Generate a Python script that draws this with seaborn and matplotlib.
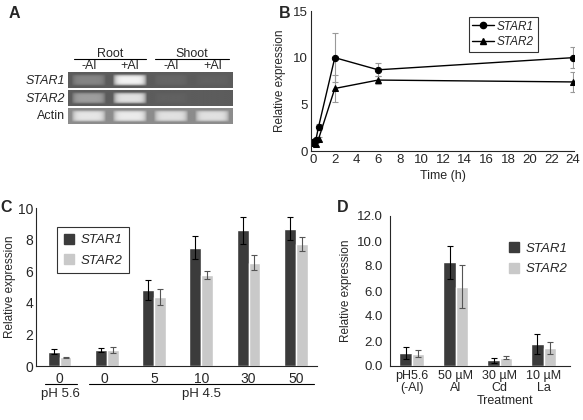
import numpy as np
import pandas as pd
import seaborn as sns
import matplotlib.pyplot as plt
from matplotlib.lines import Line2D
from matplotlib.patches import Patch

# ---- data ----
# panel A: band brightness per lane (root -Al, root +Al, shoot -Al, shoot +Al)
gel_rows = ['STAR1', 'STAR2', 'Actin']
gel_lanes = ['-Al', '+Al', '-Al', '+Al']
gel_band = [[0.52, 0.95, 0.40, 0.38],
            [0.62, 0.88, 0.38, 0.36],
            [0.90, 0.92, 0.88, 0.88]]
gel_bg = [0.36, 0.36, 0.55]

# panel B: time course
time_h = [0, 0.25, 0.5, 2, 6, 24]
star1_time = [1.0, 1.2, 2.6, 10.0, 8.7, 10.0]
star1_time_err = [0.3, 0.2, 0.3, 2.6, 0.7, 1.1]
star2_time = [0.9, 0.7, 1.3, 6.7, 7.6, 7.4]
star2_time_err = [0.2, 0.2, 0.2, 1.4, 0.4, 1.1]

# panel C: Al dose
dose_labels = ['0', '0 ', '5', '10', '30', '50']
star1_dose = [0.9, 1.0, 4.8, 7.5, 8.6, 8.7]
star1_dose_err = [0.15, 0.12, 0.65, 0.75, 0.85, 0.7]
star2_dose = [0.55, 1.0, 4.35, 5.75, 6.55, 7.7]
star2_dose_err = [0.03, 0.2, 0.5, 0.25, 0.5, 0.45]

# panel D: other metals
treat_labels = ['pH5.6\n(-Al)', '50 \u00b5M\nAl', '30 \u00b5M\nCd', '10 \u00b5M\nLa']
star1_treat = [1.05, 8.3, 0.45, 1.8]
star1_treat_err = [0.5, 1.3, 0.2, 0.8]
star2_treat = [1.0, 6.35, 0.65, 1.45]
star2_treat_err = [0.3, 1.7, 0.12, 0.45]

dark = '#3b3b3b'
light = '#c9c9c9'

sns.set_style('white')
plt.rcParams['font.family'] = ['Liberation Sans', 'DejaVu Sans']
plt.rcParams['font.size'] = 9

W, H = 583, 420
fig = plt.figure(figsize=(W / 100, H / 100), dpi=100)


def box(l, t, r, b):
    # pixel box -> figure fraction rect
    return [l / W, 1 - b / H, (r - l) / W, (b - t) / H]


# ---------- panel A ----------
axA = fig.add_axes(box(68, 72, 233, 125))
xx = np.linspace(0, 4, 400)
yy = np.linspace(0, 1, 40)
for r, (bands, bg) in enumerate(zip(gel_band, gel_bg)):
    img = np.full((len(yy), len(xx)), bg)
    for lane, val in enumerate(bands):
        px = np.clip(1 - np.abs((xx - lane - 0.5) / 0.42) ** 6, 0, 1)
        py = np.clip(1 - np.abs((yy - 0.5) / 0.38) ** 4, 0, 1)
        img = np.maximum(img, bg + (val - bg) * np.outer(py, px))
    axA.imshow(img, cmap='gray', vmin=0, vmax=1, aspect='auto',
               extent=(0, 4, r + 0.92, r + 0.04))
axA.set_xlim(0, 4)
axA.set_ylim(3, 0)
axA.axis('off')
for r, name in enumerate(gel_rows):
    axA.text(-0.06, r + 0.5, name, ha='right', va='center', fontsize=9,
             style='normal' if name == 'Actin' else 'italic')
for lane, lab in enumerate(gel_lanes):
    axA.text(lane + 0.5, -0.36, lab, ha='center', va='center', fontsize=9)
for (x0, x1, lab) in [(0.15, 1.9, 'Root'), (2.1, 3.9, 'Shoot')]:
    axA.plot([x0, x1], [-0.74, -0.74], color='black', lw=0.8, clip_on=False)
    axA.text((x0 + x1) / 2, -1.02, lab, ha='center', va='center', fontsize=9)

# ---------- panel B ----------
axB = fig.add_axes(box(311, 11, 574, 151))
dfB = pd.DataFrame({'time': time_h * 2,
                    'expr': star1_time + star2_time,
                    'gene': ['STAR1'] * len(time_h) + ['STAR2'] * len(time_h)})
axB.errorbar(time_h, star1_time, yerr=star1_time_err, fmt='none',
             ecolor='#999999', elinewidth=0.8, capsize=2.5, capthick=0.8)
axB.errorbar(time_h, star2_time, yerr=star2_time_err, fmt='none',
             ecolor='#999999', elinewidth=0.8, capsize=2.5, capthick=0.8)
sns.lineplot(data=dfB, x='time', y='expr', style='gene',
             markers={'STAR1': 'o', 'STAR2': '^'},
             dashes={'STAR1': '', 'STAR2': ''}, color='black',
             markersize=4.5, markeredgecolor='black', lw=1, ax=axB, legend=False)
axB.set_xlim(-0.2, 24.1)
axB.set_ylim(0, 15)
axB.set_xticks(range(0, 25, 2))
axB.set_yticks([0, 5, 10, 15])
axB.tick_params(direction='in', length=3, labelsize=9.5, pad=2)
axB.set_xlabel('Time (h)', fontsize=9, labelpad=3)
axB.set_ylabel('Relative expression', fontsize=8.5, labelpad=5)
sns.despine(ax=axB)
hB = [Line2D([], [], color='black', marker='o', markersize=4.5, lw=1),
      Line2D([], [], color='black', marker='^', markersize=4.5, lw=1)]
legB = axB.legend(hB, ['STAR1', 'STAR2'], loc='upper left',
                  bbox_to_anchor=(0.60, 0.957), borderaxespad=0,
                  frameon=True, fancybox=False, edgecolor='black',
                  handlelength=1.8, handletextpad=0.3, borderpad=0.3,
                  labelspacing=0.3, prop={'style': 'italic', 'size': 8.5})
legB.get_frame().set_linewidth(0.8)


def bars(ax, labels, v1, e1, v2, e2, width):
    df = pd.DataFrame({'cat': labels * 2, 'expr': v1 + v2,
                       'gene': ['STAR1'] * len(labels) + ['STAR2'] * len(labels)})
    sns.barplot(data=df, x='cat', y='expr', hue='gene',
                palette={'STAR1': dark, 'STAR2': light}, errorbar=None,
                width=width, saturation=1, ax=ax, legend=False)
    for cont, err, col in zip(ax.containers, [e1, e2], ['black', '#555555']):
        xs = [p.get_x() + p.get_width() / 2 for p in cont]
        hs = [p.get_height() for p in cont]
        ax.errorbar(xs, hs, yerr=err, fmt='none', ecolor=col,
                    elinewidth=0.8, capsize=2, capthick=0.8)


# ---------- panel C ----------
axC = fig.add_axes(box(36, 208, 317, 366))
bars(axC, dose_labels, star1_dose, star1_dose_err, star2_dose, star2_dose_err, 0.5)
axC.set_xlim(-0.5, 5.45)
axC.set_ylim(0, 10)
axC.set_yticks([0, 2, 4, 6, 8, 10])
axC.set_xticks(np.arange(0.5, 5.5, 1), minor=True)
axC.tick_params(axis='x', which='major', length=0, labelsize=10, pad=4)
axC.tick_params(axis='x', which='minor', direction='in', length=3)
axC.tick_params(axis='y', direction='in', length=3, labelsize=10, pad=2)
axC.set_xlabel('')
axC.set_ylabel('Relative expression', fontsize=8.5, labelpad=1)
sns.despine(ax=axC)
trC = axC.get_xaxis_transform()
for (x0, x1, lab) in [(-0.32, 0.36, 'pH 5.6'), (0.63, 5.39, 'pH 4.5')]:
    axC.plot([x0, x1], [-0.114, -0.114], color='black', lw=0.8,
             transform=trC, clip_on=False)
    axC.text((x0 + x1) / 2, -0.18, lab, transform=trC, ha='center',
             va='center', fontsize=9.5)
hC = [Patch(color=dark), Patch(color=light)]
legC = axC.legend(hC, ['STAR1', 'STAR2'], loc='upper left',
                  bbox_to_anchor=(0.075, 0.88), borderaxespad=0,
                  frameon=True, fancybox=False, edgecolor='black',
                  handlelength=0.8, handleheight=0.8, handletextpad=0.5,
                  borderpad=0.5, labelspacing=0.6,
                  prop={'style': 'italic', 'size': 9.5})
legC.get_frame().set_linewidth(0.8)

# ---------- panel D ----------
axD = fig.add_axes(box(390, 216, 570, 366))
bars(axD, treat_labels, star1_treat, star1_treat_err, star2_treat, star2_treat_err, 0.57)
axD.set_xlim(-0.5, 3.6)
axD.set_ylim(0, 12)
axD.set_yticks(np.arange(0, 13, 2))
axD.set_yticklabels([f'{v:.1f}' for v in np.arange(0, 13, 2)])
axD.set_xticks(np.arange(0.5, 3, 1), minor=True)
axD.tick_params(axis='x', which='major', length=0, labelsize=9, pad=3)
axD.tick_params(axis='x', which='minor', direction='inout', length=4)
axD.tick_params(axis='y', direction='out', length=3, labelsize=9.5, pad=2)
for t in axD.get_xticklabels():
    t.set_linespacing(1.0)
axD.set_xlabel('Treatment', fontsize=9)
axD.xaxis.set_label_coords(0.64, -0.19)
axD.set_ylabel('Relative expression', fontsize=8.5, labelpad=4)
sns.despine(ax=axD)
axD.legend([Patch(color=dark), Patch(color=light)], ['STAR1', 'STAR2'],
           loc='upper left', bbox_to_anchor=(0.63, 0.86), borderaxespad=0,
           frameon=False, handlelength=0.8, handleheight=0.8,
           handletextpad=0.5, labelspacing=0.6,
           prop={'style': 'italic', 'size': 9.5})

# panel letters
for lab, x, y in [('A', 14, 14), ('B', 285, 13), ('C', 6, 208), ('D', 343, 208)]:
    fig.text(x / W, 1 - y / H, lab, fontsize=11.5, fontweight='bold',
             ha='center', va='center')

fig.savefig('out.png', dpi=100)
